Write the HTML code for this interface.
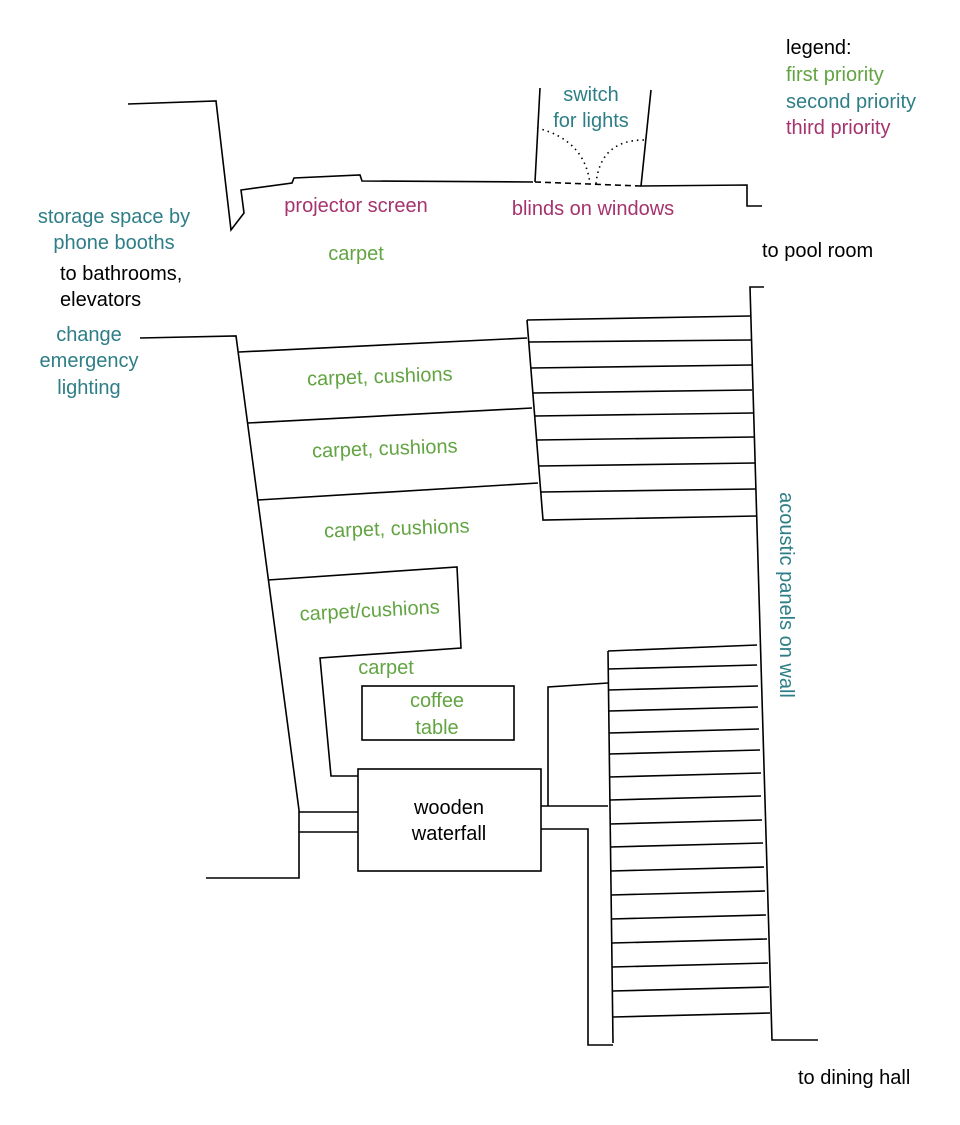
<!DOCTYPE html>
<html><head><meta charset="utf-8"><style>
html,body{margin:0;padding:0;background:#fff}
svg text{font-family:"Liberation Sans",sans-serif;font-size:20px}
.g{fill:#62a442}.t{fill:#2e7e87}.m{fill:#a5336d}.k{fill:#000}
</style></head><body>
<svg width="960" height="1120" viewBox="0 0 960 1120" xmlns="http://www.w3.org/2000/svg">
<g fill="none" stroke="#000" stroke-width="1.6">
<polyline points="128,104 216,101 231,230 244,213 241,190 292,183 294,178 360,175 362,181 533,182"/>
<polyline points="540,88 535,182"/>
<polyline points="651,90 641,186 747,185 747,206 762,206"/>
<line x1="535" y1="182" x2="641" y2="186" stroke-dasharray="6,4"/>
<path d="M537,128 Q585,140 590,184" stroke-dasharray="1.5,4"/>
<path d="M644,140 Q600,140 596,184" stroke-dasharray="1.5,4"/>
<polyline points="764,287 750,287 772,1040 818,1040"/>
<polyline points="527,320 543,520 757,516"/>
<line x1="527" y1="320" x2="750" y2="316"/>
<line x1="529" y1="342" x2="751" y2="340"/>
<line x1="531" y1="368" x2="752" y2="365"/>
<line x1="533" y1="393" x2="752" y2="390"/>
<line x1="535" y1="416" x2="753" y2="413"/>
<line x1="537" y1="440" x2="754" y2="437"/>
<line x1="539" y1="466" x2="755" y2="463"/>
<line x1="541" y1="492" x2="756" y2="489"/>
<polyline points="608,651 613,1043"/>
<line x1="608" y1="651" x2="757" y2="645"/>
<line x1="608" y1="669" x2="757" y2="665"/>
<line x1="608" y1="690" x2="758" y2="686"/>
<line x1="609" y1="711" x2="758" y2="707"/>
<line x1="609" y1="733" x2="759" y2="729"/>
<line x1="609" y1="754" x2="760" y2="750"/>
<line x1="609" y1="777" x2="761" y2="773"/>
<line x1="610" y1="800" x2="761" y2="796"/>
<line x1="610" y1="824" x2="762" y2="820"/>
<line x1="610" y1="847" x2="763" y2="843"/>
<line x1="611" y1="871" x2="764" y2="867"/>
<line x1="611" y1="895" x2="765" y2="891"/>
<line x1="611" y1="919" x2="766" y2="915"/>
<line x1="612" y1="943" x2="767" y2="939"/>
<line x1="612" y1="967" x2="768" y2="963"/>
<line x1="612" y1="991" x2="769" y2="987"/>
<line x1="613" y1="1017" x2="770" y2="1013"/>
<polyline points="140,338 236,336 299,810 299,878 206,878"/>
<line x1="239" y1="352" x2="527" y2="338"/>
<line x1="248" y1="423" x2="532" y2="408"/>
<line x1="258" y1="500" x2="538" y2="483"/>
<polyline points="268,580 457,567 461,648 320,658 331,776 358,776"/>
<rect x="358" y="769" width="183" height="102"/>
<rect x="362" y="686" width="152" height="54"/>
<line x1="299" y1="812" x2="358" y2="812"/>
<line x1="299" y1="832" x2="358" y2="832"/>
<polyline points="541,806 608,806"/>
<polyline points="548,806 548,687 608,683"/>
<polyline points="541,829 588,829 588,1045 613,1045"/>
</g>
<text x="786" y="54" class="k">legend:</text>
<text x="786" y="81" class="g">first priority</text>
<text x="786" y="108" class="t">second priority</text>
<text x="786" y="134" class="m">third priority</text>
<text x="591" y="101" class="t" text-anchor="middle">switch</text>
<text x="591" y="127" class="t" text-anchor="middle">for lights</text>
<text x="356" y="212" class="m" text-anchor="middle">projector screen</text>
<text x="593" y="215" class="m" text-anchor="middle">blinds on windows</text>
<text x="356" y="260" class="g" text-anchor="middle">carpet</text>
<text x="114" y="223" class="t" text-anchor="middle">storage space by</text>
<text x="114" y="249" class="t" text-anchor="middle">phone booths</text>
<text x="60" y="280" class="k">to bathrooms,</text>
<text x="60" y="306" class="k">elevators</text>
<text x="89" y="341" class="t" text-anchor="middle">change</text>
<text x="89" y="367" class="t" text-anchor="middle">emergency</text>
<text x="89" y="394" class="t" text-anchor="middle">lighting</text>
<text x="762" y="257" class="k">to pool room</text>
<text x="380" y="383" class="g" text-anchor="middle" transform="rotate(-2 380 383)">carpet, cushions</text>
<text x="385" y="455" class="g" text-anchor="middle" transform="rotate(-2 385 455)">carpet, cushions</text>
<text x="397" y="535" class="g" text-anchor="middle" transform="rotate(-2 397 535)">carpet, cushions</text>
<text x="370" y="617" class="g" text-anchor="middle" transform="rotate(-3 370 617)">carpet/cushions</text>
<text x="386" y="674" class="g" text-anchor="middle">carpet</text>
<text x="437" y="707" class="g" text-anchor="middle">coffee</text>
<text x="437" y="734" class="g" text-anchor="middle">table</text>
<text x="449" y="814" class="k" text-anchor="middle">wooden</text>
<text x="449" y="840" class="k" text-anchor="middle">waterfall</text>
<text x="780" y="595" class="t" text-anchor="middle" transform="rotate(90 780 595)">acoustic panels on wall</text>
<text x="798" y="1084" class="k">to dining hall</text>
</svg>
</body></html>
